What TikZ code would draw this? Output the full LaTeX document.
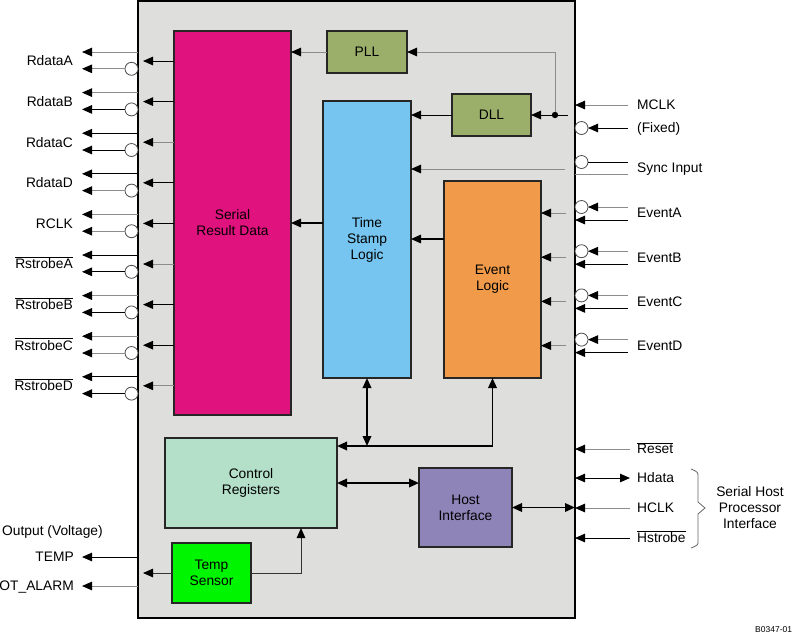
\documentclass[tikz,border=0pt]{standalone}
\usepackage{fontspec}
\setmainfont{Liberation Sans}
\usetikzlibrary{arrows.meta}
\definecolor{chipbg}{HTML}{DEDEDD}
\definecolor{linegray}{HTML}{8C8C8C}
\definecolor{srdcol}{HTML}{E0127D}
\definecolor{llcol}{HTML}{9BAF6B}
\definecolor{tslcol}{HTML}{75C5F0}
\definecolor{evlcol}{HTML}{F19B4A}
\definecolor{crcol}{HTML}{B4DFC9}
\definecolor{hicol}{HTML}{8E84B8}
\definecolor{tscol}{HTML}{00F500}
\newcommand\ovl[1]{$\overline{\mbox{#1}}$}
\begin{document}
\begin{tikzpicture}[x=1pt,y=-1pt,
  font=\fontsize{13.8}{16}\selectfont,
  tip/.tip={Triangle[length=10pt,width=8.5pt,color=black]},
  blk/.style={draw=black!85, line width=1.5pt, inner sep=0pt, outer sep=0pt, align=center, anchor=north west},
  arr/.style={-tip, line width=1pt},
  darr/.style={tip-tip, line width=1.8pt},
  inv/.style={circle, draw=black!70, fill=white, line width=0.8pt, minimum size=13pt, inner sep=0pt, outer sep=0pt},
  lbl/.style={inner sep=0pt}]
\useasboundingbox (0,0) rectangle (792,633);
% main box
\node[draw=black, fill=chipbg, line width=2pt, minimum width=437pt, minimum height=617pt, anchor=north west, inner sep=0pt, outer sep=0pt] (chip) at (138,1) {};
% blocks
\node[blk, fill=srdcol, minimum width=117pt, minimum height=384pt] (srd) at (174,31) {Serial\\Result Data};
\node[blk, fill=llcol, minimum width=80pt, minimum height=42pt] (pll) at (327,31) {PLL};
\node[blk, fill=llcol, minimum width=79pt, minimum height=42pt] (dll) at (452,94) {DLL};
\node[blk, fill=tslcol, minimum width=88pt, minimum height=277pt] (tsl) at (323,101) {Time\\Stamp\\Logic};
\node[blk, fill=evlcol, minimum width=97pt, minimum height=197pt] (evl) at (444,181) {Event\\Logic};
\node[blk, fill=crcol, minimum width=172pt, minimum height=90pt] (cr) at (165,438) {Control\\Registers};
\node[blk, fill=hicol, minimum width=93pt, minimum height=79pt] (hi) at (419,468) {Host\\Interface};
\node[blk, fill=tscol, minimum width=79pt, minimum height=60pt] (ts) at (172,543) {Temp\\Sensor};
% left side outputs
\foreach \lab/\i/\ca/\cb/\cc in {RdataA/0/linegray/linegray/black, RdataB/1/linegray/black/black, RdataC/2/black/black/linegray, RdataD/3/black/linegray/black, RCLK/4/linegray/linegray/black, {\ovl{RstrobeA}}/5/black/black/linegray, {\ovl{RstrobeB}}/6/linegray/black/black, {\ovl{RstrobeC}}/7/linegray/linegray/black, {\ovl{RstrobeD}}/8/black/black/linegray}{
  \pgfmathsetmacro\yt{52+40.6*\i}
  \pgfmathsetmacro\yc{\yt+16.8}
  \pgfmathsetmacro\ym{\yt+9}
  \pgfmathsetmacro\yb{\ym+4.8}
  \coordinate (lo\i) at (82,\yt);
  \coordinate (lc\i) at (82,\yc);
  \coordinate (li\i) at (143,\ym);
  \node[inv] (inv\i) at (131.5,\yc) {};
  \draw[arr, draw=\ca] (chip.west |- lo\i) -- (lo\i);
  \draw[arr, draw=\cb] (inv\i.west) -- (lc\i);
  \draw[arr, draw=\cc] (srd.west |- li\i) -- (li\i);
  \node[lbl, anchor=base east] at (73,\yb) {\lab};
}
% PLL / DLL / MCLK
\coordinate (mclk) at (628,105);
\draw[arr, draw=linegray] (mclk) -- (chip.east |- mclk);
\node[lbl, anchor=base west] at (637,109.8) {MCLK};
\coordinate (dllsrc) at (568,115);
\coordinate (jn) at (555,115);
\draw[arr] (dllsrc) -- (dll.east);
\draw[arr, draw=linegray] (jn) |- (pll.east);
\fill (jn) circle (3.2pt);
\draw[arr, draw=linegray] (pll.west) -- (srd.east |- pll.west);
\draw[arr] (dll.west) -- (tsl.east |- dll.west);
% Fixed
\node[inv] (fix) at (581.5,128) {};
\coordinate (fixin) at (628,128);
\draw[arr] (fixin) -- (fix.east);
\node[lbl, anchor=base west] at (637,132.8) {(Fixed)};
% Sync
\node[inv] (syc) at (581.5,162) {};
\coordinate (sycout) at (628,162);
\coordinate (sycg) at (628,174);
\draw[line width=1pt] (syc.east) -- (sycout);
\draw[line width=1pt, linegray] (chip.east |- sycg) -- (sycg);
\node[lbl, anchor=base west] at (637,172.8) {Sync Input};
\coordinate (syncsrc) at (565,169);
\draw[arr, draw=linegray] (syncsrc) -- (tsl.east |- syncsrc);
% events
\foreach \lab/\i in {EventA/0, EventB/1, EventC/2, EventD/3}{
  \pgfmathsetmacro\yc{207+44.2*\i}
  \pgfmathsetmacro\yl{\yc+13}
  \pgfmathsetmacro\ym{\yc+6}
  \pgfmathsetmacro\yb{\ym+4.8}
  \node[inv] (ev\i) at (581.5,\yc) {};
  \coordinate (evin\i) at (628,\yc);
  \coordinate (evl\i) at (628,\yl);
  \coordinate (evs\i) at (566,\ym);
  \draw[arr, draw=linegray] (evin\i) -- (ev\i.east);
  \draw[arr] (evl\i) -- (chip.east |- evl\i);
  \draw[arr, draw=linegray] (evs\i) -- (evl.east |- evs\i);
  \node[lbl, anchor=base west] at (637,\yb) {\lab};
}
% internal connections
\coordinate (tsy) at (0,223);
\draw[arr, line width=1.5pt] (tsl.west |- tsy) -- (srd.east |- tsy);
\coordinate (evy) at (0,239);
\draw[arr, line width=1.5pt] (evl.west |- evy) -- (tsl.east |- evy);
\coordinate (busy) at (0,446);
\draw[darr] (evl.south) |- (cr.east |- busy);
\draw[darr] (tsl.south) -- (tsl.south |- busy);
\coordinate (chy) at (0,483);
\draw[darr] (cr.east |- chy) -- (hi.west |- chy);
\draw[darr] (hi.east) -- (chip.east |- hi.east);
\coordinate (tsup) at (301,528);
\draw[arr, draw=black!80] (ts.east) -| (tsup);
\coordinate (tsout) at (143,573);
\draw[arr, draw=black!80] (ts.west) -- (tsout);
% left lower
\coordinate (tempo) at (82,557);
\coordinate (otao) at (82,586);
\draw[arr] (chip.west |- tempo) -- (tempo);
\draw[arr, draw=linegray] (chip.west |- otao) -- (otao);
\node[lbl, anchor=base west] at (2,535.8) {Output (Voltage)};
\node[lbl, anchor=base east] at (74,561.8) {TEMP};
\node[lbl, anchor=base east] at (74,590.8) {OT\_ALARM};
% right lower
\coordinate (rst) at (630,449);
\coordinate (hd) at (630,478);
\coordinate (hc) at (630,508);
\coordinate (hs) at (630,538);
\draw[arr, draw=linegray] (rst) -- (chip.east |- rst);
\draw[tip-tip, line width=1pt] (chip.east |- hd) -- (hd);
\draw[arr, draw=linegray] (hc) -- (chip.east |- hc);
\draw[arr] (hs) -- (chip.east |- hs);
\node[lbl, anchor=base west] at (637,453.8) {\ovl{Reset}};
\node[lbl, anchor=base west] at (637,482.8) {Hdata};
\node[lbl, anchor=base west] at (637,512.8) {HCLK};
\node[lbl, anchor=base west] at (637,542.8) {\ovl{Hstrobe}};
% brace
\draw[black!60, line width=0.8pt] (691,469) .. controls (698,472) .. (698,477) -- (698,502) -- (705,508) -- (698,514) -- (698,541) .. controls (698,545) .. (691,548);
\node[lbl, align=center] at (750,508) {Serial Host\\Processor\\Interface};
\node[lbl, anchor=base west, font=\fontsize{8.5}{10}\selectfont] at (755,632) {B0347-01};
\end{tikzpicture}
\end{document}
